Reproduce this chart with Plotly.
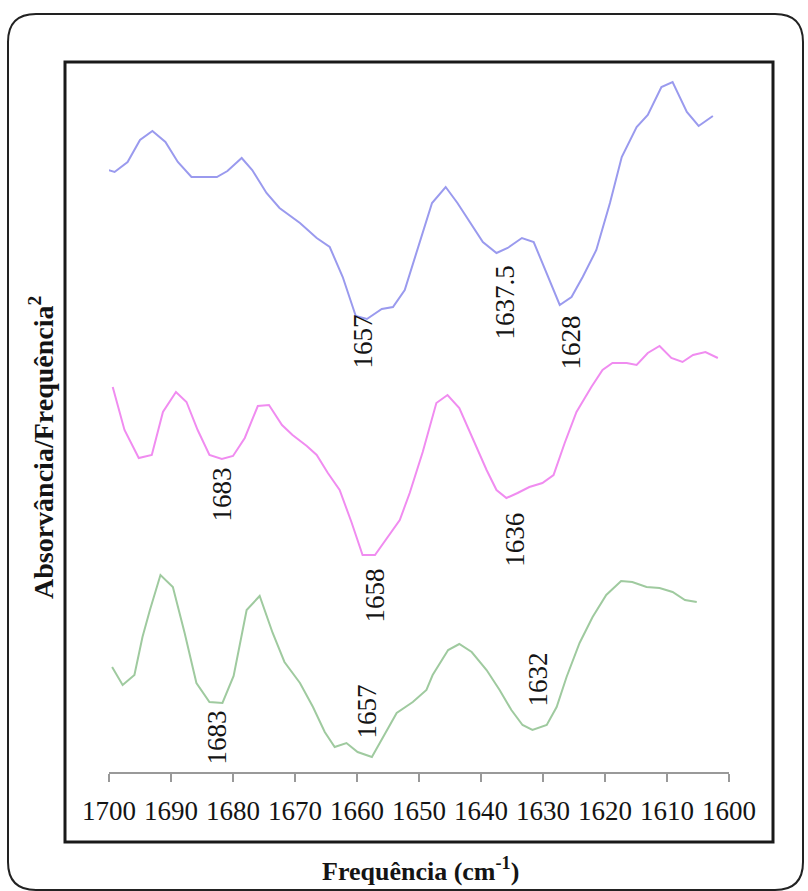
import plotly.graph_objects as go

# Second-derivative spectra of the amide I band (offset for display, arbitrary units)
freq_blue = [1700.7, 1699.1, 1697.0, 1695.0, 1693.0, 1690.9, 1688.9, 1686.7, 1682.6, 1680.9,
             1678.6, 1676.9, 1674.6, 1672.5, 1669.2, 1666.5, 1664.4, 1662.3, 1660.2, 1658.4,
             1656.0, 1654.2, 1652.3, 1647.9, 1645.7, 1643.8, 1639.7, 1637.5, 1635.7, 1633.4,
             1631.5, 1629.4, 1627.3, 1625.4, 1623.6, 1621.4, 1619.2, 1617.3, 1614.9, 1613.1,
             1610.9, 1609.1, 1606.8, 1604.9, 1602.6]
vals_blue = [603, 600, 610, 632, 641, 630, 610, 595, 595, 601,
             614, 602, 579, 564, 549, 534, 525, 495, 456, 453,
             463, 465, 482, 569, 585, 569, 530, 519, 524, 534,
             530, 499, 467, 475, 495, 522, 569, 615, 645, 657,
             685, 690, 660, 646, 656]

freq_pink = [1699.4, 1697.5, 1695.2, 1693.1, 1691.3, 1689.2, 1687.5, 1685.7, 1683.8, 1681.8,
             1680.0, 1678.1, 1676.0, 1674.2, 1672.1, 1670.4, 1668.1, 1666.5, 1664.7, 1662.8,
             1660.9, 1659.1, 1657.1, 1655.0, 1653.1, 1651.5, 1649.4, 1647.2, 1645.4, 1643.5,
             1641.4, 1639.1, 1637.5, 1635.9, 1634.1, 1632.2, 1630.1, 1628.3, 1626.5, 1624.6,
             1622.2, 1620.4, 1618.8, 1616.5, 1614.9, 1613.1, 1611.2, 1609.3, 1607.5, 1605.8,
             1603.8, 1601.8]
vals_pink = [385, 342, 314, 317, 360, 380, 370, 342, 317, 313,
             316, 334, 366, 367, 347, 337, 326, 317, 299, 282,
             250, 217, 217, 235, 252, 279, 320, 369, 377, 364,
             335, 302, 282, 274, 279, 285, 289, 297, 329, 360,
             385, 402, 409, 409, 407, 419, 426, 414, 410, 417,
             420, 414]

freq_green = [1699.5, 1697.8, 1695.9, 1694.6, 1693.4, 1691.7, 1689.7, 1687.8, 1685.9, 1683.8,
              1681.7, 1679.9, 1677.8, 1675.7, 1673.6, 1671.7, 1669.2, 1667.1, 1665.2, 1663.6,
              1661.7, 1659.9, 1657.6, 1655.8, 1653.6, 1651.0, 1648.8, 1647.8, 1645.3, 1643.5,
              1641.5, 1639.1, 1637.0, 1635.1, 1633.3, 1631.7, 1629.4, 1627.8, 1626.2, 1624.1,
              1622.0, 1619.8, 1617.4, 1615.6, 1613.3, 1611.2, 1609.1, 1607.1, 1605.2]
vals_green = [105, 87, 97, 135, 162, 197, 185, 139, 89, 70,
              69, 96, 162, 176, 139, 110, 89, 65, 40, 25,
              29, 20, 15, 35, 59, 70, 82, 97, 122, 128,
              120, 102, 82, 62, 47, 42, 47, 65, 95, 129,
              155, 177, 191, 190, 185, 184, 180, 172, 170]

# Band assignments marked on each spectrum
peaks_blue = [1657, 1637.5, 1628]
peaks_pink = [1683, 1658, 1636]
peaks_green = [1683, 1657, 1632]

tick_values = [1700, 1690, 1680, 1670, 1660, 1650, 1640, 1630, 1620, 1610, 1600]
tick_labels = [str(v) for v in tick_values]

SERIF = "Liberation Serif"
INK = "#141414"

# plot-area geometry in pixels (used to place frame shapes and titles)
W, H = 808, 891
L, R, T, B = 109, 79, 62, 119
PW, PH = W - L - R, H - T - B


def px(x):
    return (x - L) / PW


def py(y):
    return (H - B - y) / PH


fig = go.Figure()
for f, v, c in [(freq_blue, vals_blue, "#9a9aee"),
                (freq_pink, vals_pink, "#f08cf0"),
                (freq_green, vals_green, "#9fca9f")]:
    fig.add_trace(go.Scatter(x=f, y=v, mode="lines",
                             line=dict(color=c, width=2), hoverinfo="skip",
                             showlegend=False))

# peak labels: (value, label centre height, horizontal nudge in px)
label_specs = [
    (peaks_blue[0], 430, -13), (peaks_blue[1], 469, 8), (peaks_blue[2], 430, 16),
    (peaks_pink[0], 278, 8), (peaks_pink[1], 177, 6), (peaks_pink[2], 232, 9),
    (peaks_green[0], 35, 3), (peaks_green[1], 60, -9), (peaks_green[2], 92, 7),
]
annotations = []
for val, yv, dx in label_specs:
    annotations.append(dict(x=val, y=yv, xref="x", yref="y", text=f"{val:g}",
                            textangle=-90, showarrow=False, xshift=dx,
                            xanchor="center", yanchor="middle",
                            font=dict(family=SERIF, size=27, color=INK)))

annotations.append(dict(x=px(420), y=py(869), xref="paper", yref="paper",
                        xanchor="center", yanchor="middle",
                        text="<b>Frequência (cm<sup>-1</sup>)</b>", showarrow=False,
                        font=dict(family=SERIF, size=26, color=INK)))
annotations.append(dict(x=px(42), y=py(448), xref="paper", yref="paper",
                        xanchor="center", yanchor="middle",
                        text="<b>Absorvância/Frequência<sup>2</sup></b>", textangle=-90,
                        showarrow=False,
                        font=dict(family=SERIF, size=28, color=INK)))

# outer rounded frame and inner chart frame
x0, x1, y0, y1, r = 8, 803, 14, 890, 28
path = (f"M {px(x0 + r)},{py(y0)} L {px(x1 - r)},{py(y0)} "
        f"Q {px(x1)},{py(y0)} {px(x1)},{py(y0 + r)} "
        f"L {px(x1)},{py(y1 - r)} Q {px(x1)},{py(y1)} {px(x1 - r)},{py(y1)} "
        f"L {px(x0 + r)},{py(y1)} Q {px(x0)},{py(y1)} {px(x0)},{py(y1 - r)} "
        f"L {px(x0)},{py(y0 + r)} Q {px(x0)},{py(y0)} {px(x0 + r)},{py(y0)} Z")
shapes = [
    dict(type="path", xref="paper", yref="paper", path=path,
         line=dict(color="#222", width=2)),
    dict(type="rect", xref="paper", yref="paper",
         x0=px(65), x1=px(773), y0=py(842), y1=py(62),
         line=dict(color="#1a1a1a", width=3)),
]

fig.update_layout(
    width=W, height=H,
    margin=dict(l=L, r=R, t=T, b=B),
    paper_bgcolor="white", plot_bgcolor="white",
    font=dict(family=SERIF, color=INK),
    annotations=annotations, shapes=shapes,
    xaxis=dict(range=[1700, 1600], tickvals=tick_values, ticktext=tick_labels,
               showgrid=False, zeroline=False, showline=True, linecolor="#999",
               linewidth=1.5, ticks="outside", ticklen=8, tickcolor="#999", tickwidth=1.5,
               ticklabelstandoff=6,
               tickfont=dict(family=SERIF, size=27, color=INK)),
    yaxis=dict(range=[0, PH], visible=False),
)

fig.write_html("out.html")
